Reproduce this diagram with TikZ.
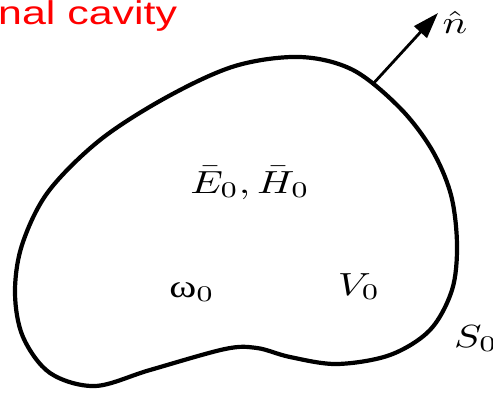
\documentclass[tikz,border=0pt]{standalone}
\usepackage{fontspec}
\usepackage{graphicx}
\usetikzlibrary{arrows.meta}
\newfontfamily\headfont{Liberation Sans}
\newfontfamily\grkfont{Liberation Serif}
\definecolor{capred}{HTML}{FF0000}
\newcommand{\wide}[1]{\scalebox{1.3}[1]{#1}}
\newcommand{\biglab}[1]{\scalebox{4.1}[3.2]{#1}}
\tikzset{outline/.style={line width=4.2pt,line join=round},
  arr/.style={-{Triangle[length=26pt,width=17pt]},line width=2.8pt},
  lab/.style={anchor=base,inner sep=0pt}}

\begin{document}
\begin{tikzpicture}[x=1pt,y=-1pt]
\useasboundingbox (0,0) rectangle (493,392);
\node[anchor=base west,inner sep=0pt,text=capred,font=\headfont\fontsize{33}{38}\selectfont] (title) at (-2,24) {\wide{nal cavity}};
% cavity wall S_0
\draw[outline] plot[smooth cycle,tension=0.55] coordinates {
  (300,57) (353,70) (400,108) (432,150) (451,195) (457,245) (452,290)
  (430,330) (390,355) (337,364) (290,357) (257,348) (225,349) (150,370)
  (95,386) (50,373) (23,337) (15,293) (22,245) (48,192) (100,140)
  (167,97) (235,66)};
\coordinate (base) at (372,85);
\coordinate (tip) at (438,13);
\draw[arr] (base) -- (tip);
\node[lab] (nhat) at (455,33) {\biglab{$\hat{n}$}};
\node[lab] (fields) at (250,193) {\biglab{$\bar{E}_0,\bar{H}_0$}};
\node[lab] (omega) at (192,297) {\biglab{{\grkfont ω}$_0$}};
\node[lab] (vol) at (359,295) {\biglab{$V_0$}};
\node[lab] (surf) at (476,347) {\biglab{$S_0$}};
\end{tikzpicture}
\end{document}
